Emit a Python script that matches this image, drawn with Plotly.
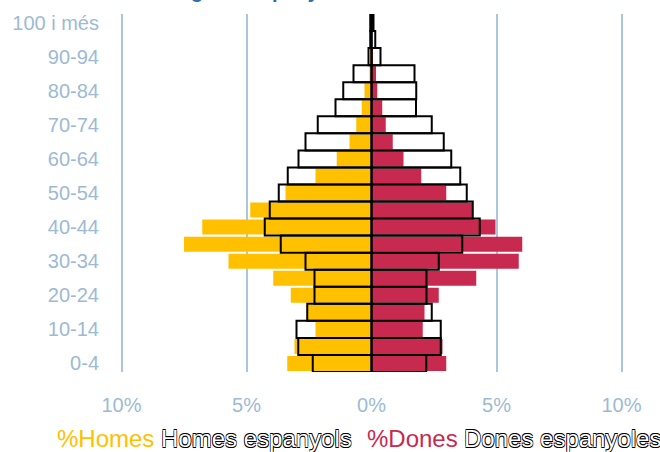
import plotly.graph_objs as go

ages = ['0-4', '5-9', '10-14', '15-19', '20-24', '25-29', '30-34', '35-39',
        '40-44', '45-49', '50-54', '55-59', '60-64', '65-69', '70-74',
        '75-79', '80-84', '85-89', '90-94', '95-99', '100 i més']

# % of total population
homes_pct = [3.37, 3.08, 2.24, 2.6, 3.23, 3.93, 5.72, 7.5, 6.77, 4.85, 3.44,
             2.24, 1.39, 0.88, 0.61, 0.39, 0.28, 0.08, 0.04, 0.01, 0.0]
dones_pct = [2.99, 2.84, 2.05, 2.12, 2.69, 4.19, 5.89, 6.03, 4.96, 4.03, 2.99,
             1.99, 1.28, 0.85, 0.57, 0.43, 0.23, 0.18, 0.06, 0.02, 0.0]

# % of spanish population
homes_esp = [2.35, 2.93, 3.0, 2.57, 2.28, 2.28, 2.64, 3.63, 4.27, 4.07, 3.71,
             3.35, 2.92, 2.64, 2.15, 1.44, 1.13, 0.72, 0.12, 0.05, 0.05]
dones_esp = [2.19, 2.77, 2.77, 2.41, 2.2, 2.2, 2.69, 3.63, 4.33, 4.05, 3.81,
             3.55, 3.19, 2.89, 2.41, 1.78, 1.79, 1.72, 0.36, 0.15, 0.08]

x_ticks = [-10, -5, 0, 5, 10]
x_ticktext = ['10%', '5%', '0%', '5%', '10%']

YELLOW = '#FFC000'
RED = '#C8294F'
GRID = '#A9C6DE'
LABEL = '#9DBAD4'
FONT = 'Arial, Liberation Sans, sans-serif'
OUTLINE = ('-0.6px -0.6px 0 #000, 0.6px -0.6px 0 #000, '
           '-0.6px 0.6px 0 #000, 0.6px 0.6px 0 #000')

fig = go.Figure()
fig.add_traces([
    go.Bar(name='%Homes', y=ages, x=[-v for v in homes_pct], orientation='h',
           width=0.88, marker={'color': YELLOW, 'line': {'width': 0}}),
    go.Bar(name='%Dones', y=ages, x=dones_pct, orientation='h',
           width=0.88, marker={'color': RED, 'line': {'width': 0}}),
    go.Bar(name='Homes espanyols', y=ages, x=[-v for v in homes_esp],
           orientation='h', width=1.0,
           marker={'color': 'rgba(0,0,0,0)',
                   'line': {'color': 'black', 'width': 2}}),
    go.Bar(name='Dones espanyoles', y=ages, x=dones_esp,
           orientation='h', width=1.0,
           marker={'color': 'rgba(0,0,0,0)',
                   'line': {'color': 'black', 'width': 2}}),
])


def px(x):
    return (x - 104) / 540


legend_items = [
    ('%Homes', 55, YELLOW, None),
    ('Homes espanyols', 159, 'white', OUTLINE),
    ('%Dones', 365, RED, None),
    ('Dones espanyoles', 462, 'white', OUTLINE),
]
annotations = []
for text, left, color, shadow in legend_items:
    font = {'family': FONT, 'size': 24, 'color': color}
    if shadow:
        font['shadow'] = shadow
    annotations.append(dict(
        text=text, x=px(left), y=-0.185, xref='paper', yref='paper',
        xanchor='left', yanchor='middle', showarrow=False, font=font,
    ))

annotations.append(dict(
    text='<b>Població estrangera i espanyola</b>', x=px(40), y=1.0,
    xref='paper', yref='paper', xanchor='left', yanchor='bottom',
    yshift=10, showarrow=False,
    font={'family': 'Arial', 'size': 20, 'color': '#2A6EAE'},
))

fig.update_layout(
    width=660,
    height=452,
    margin={'l': 104, 'r': 16, 't': 14, 'b': 80},
    paper_bgcolor='white',
    plot_bgcolor='white',
    barmode='overlay',
    showlegend=False,
    annotations=annotations,
    xaxis={
        'range': [-10.7, 10.9],
        'tickvals': x_ticks,
        'ticktext': x_ticktext,
        'showgrid': True,
        'gridcolor': GRID,
        'gridwidth': 1.5,
        'zeroline': False,
        'automargin': False,
        'ticklabelstandoff': 19,
        'tickfont': {'family': FONT, 'size': 20, 'color': LABEL},
    },
    yaxis={
        'type': 'category',
        'categoryorder': 'array',
        'categoryarray': ages,
        'range': [-0.5, 20.5],
        'tickvals': ages[::2],
        'showgrid': False,
        'zeroline': False,
        'automargin': False,
        'ticklabelstandoff': 4,
        'tickfont': {'family': FONT, 'size': 20, 'color': LABEL},
    },
)

# the page adds a default 8px body margin; drop it so the chart fills the window
fig.write_html(
    'out.html',
    config={'displayModeBar': False},
    post_script="document.body.style.margin='0';",
)
